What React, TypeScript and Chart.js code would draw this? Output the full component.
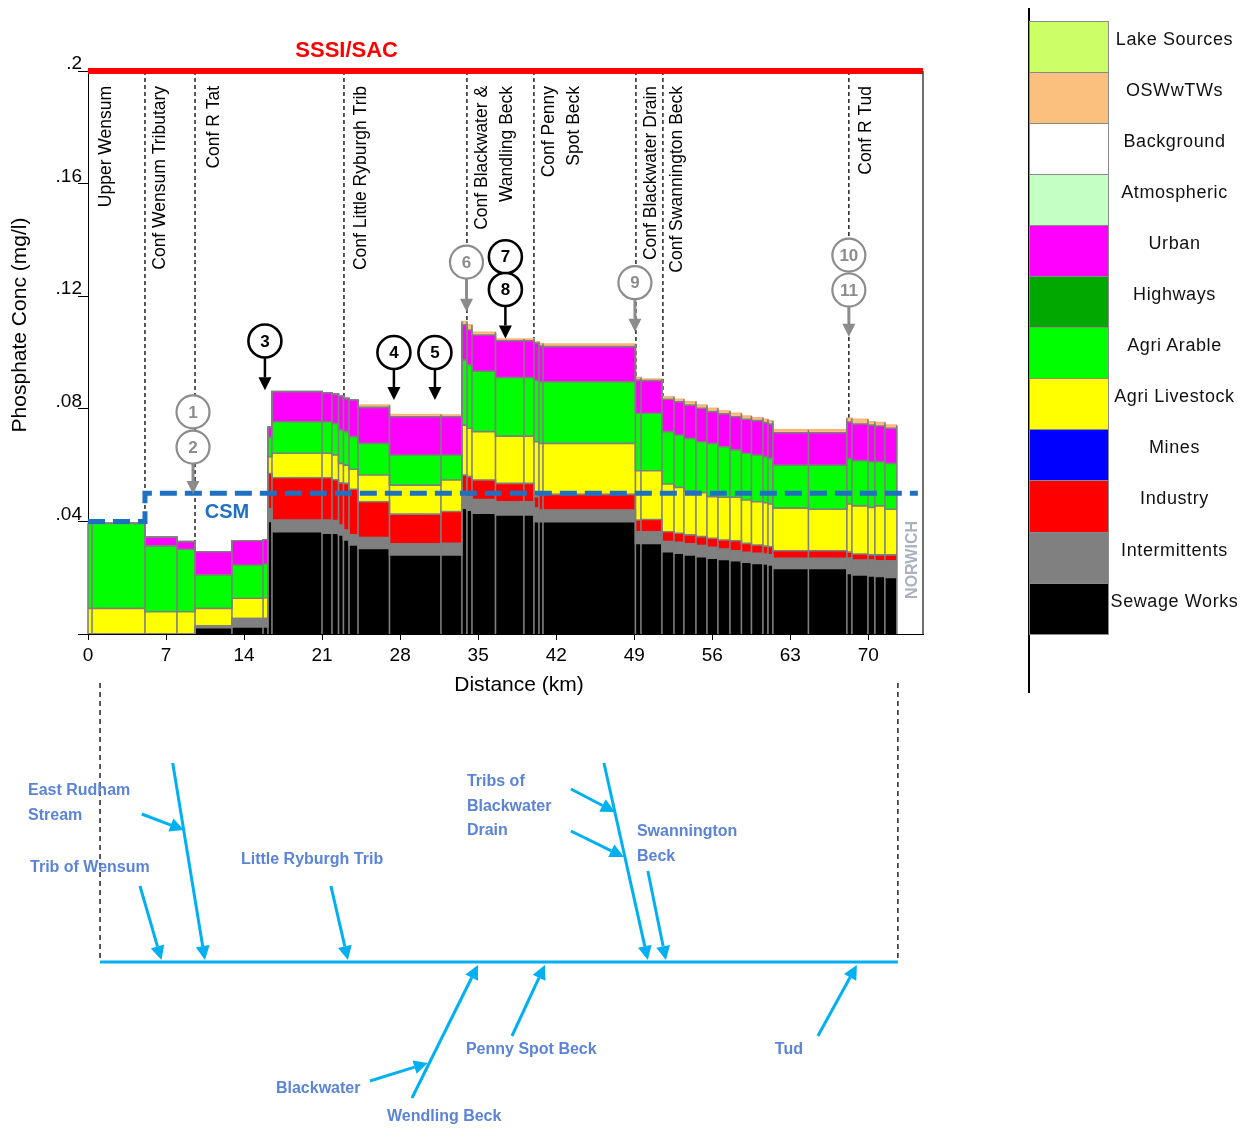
import React, { useEffect, useRef } from 'react';
import { Chart, registerables } from 'chart.js';

Chart.register(...registerables);

const FONT = '"Liberation Sans", Arial, Helvetica, sans-serif';

// ---------------- data (distance in km, concentrations in mg/l) ----------------
const segmentStartKm = [
  0, 0.36, 5.11, 7.98, 9.6, 12.91, 15.7, 16.14, 16.5, 20.99,
  21.88, 22.47, 22.91, 23.41, 24.22, 27.04, 31.66, 33.54, 33.99, 34.44,
  36.55, 39.1, 40.0, 40.45, 40.81, 49.1, 49.6, 51.48, 52.56, 53.45,
  54.53, 55.52, 56.5, 57.58, 58.61, 59.51, 60.54, 60.99, 61.43, 64.62,
  68.07, 68.52, 69.96, 70.58, 71.48,
];
const riverEndKm = 72.56;

const sewageWorks = [
  0, 0, 0, 0, 0.0022, 0.0025, 0.0025, 0.04, 0.0363, 0.0358,
  0.0358, 0.0352, 0.0334, 0.0316, 0.0304, 0.0281, 0.0281, 0.0447, 0.044, 0.0429,
  0.0423, 0.0423, 0.0399, 0.0399, 0.0399, 0.0322, 0.0322, 0.0292, 0.0287, 0.0281,
  0.0275, 0.0269, 0.0265, 0.026, 0.0255, 0.0251, 0.0249, 0.0245, 0.0233, 0.0233,
  0.0215, 0.021, 0.0206, 0.0204, 0.0201,
];
const intermittents = [
  0, 0, 0, 0, 0.0006, 0.003, 0.003, 0.0045, 0.0042, 0.0047,
  0.0045, 0.0035, 0.0035, 0.0036, 0.0039, 0.0039, 0.0041, 0.0047, 0.0048, 0.0049,
  0.0047, 0.0047, 0.0048, 0.0041, 0.0041, 0.0041, 0.0041, 0.0036, 0.0039, 0.0039,
  0.0039, 0.0039, 0.0037, 0.0036, 0.0035, 0.0036, 0.0035, 0.0036, 0.0036, 0.0036,
  0.0055, 0.0053, 0.0057, 0.0056, 0.0059,
];
const industry = [
  0, 0, 0, 0, 0, 0, 0, 0.0125, 0.015, 0.015,
  0.0145, 0.015, 0.0166, 0.0162, 0.0127, 0.0106, 0.0113, 0.0071, 0.0071, 0.0069,
  0.0065, 0.0065, 0.0041, 0.0056, 0.0056, 0.0042, 0.0044, 0.0035, 0.0032, 0.0032,
  0.0032, 0.0032, 0.0032, 0.0035, 0.0032, 0.0029, 0.0028, 0.0029, 0.0027, 0.0027,
  0.0021, 0.0021, 0.0018, 0.0021, 0.0021,
];
const agriLivestock = [
  0.0091, 0.0091, 0.0079, 0.0079, 0.0063, 0.0072, 0.0074, 0.006, 0.0087, 0.0087,
  0.0088, 0.0069, 0.0065, 0.0071, 0.0095, 0.0103, 0.0112, 0.0177, 0.0172, 0.0172,
  0.0168, 0.0168, 0.0195, 0.0181, 0.0181, 0.0175, 0.0173, 0.017, 0.0163, 0.0157,
  0.0156, 0.0148, 0.0152, 0.0155, 0.0154, 0.0154, 0.0154, 0.0152, 0.0151, 0.0147,
  0.0171, 0.0171, 0.0169, 0.0174, 0.0162,
];
const agriArable = [
  0.0302, 0.0302, 0.0234, 0.0222, 0.0119, 0.0118, 0.012, 0.007, 0.0112, 0.0112,
  0.0112, 0.0119, 0.0119, 0.0116, 0.0112, 0.0107, 0.0089, 0.0231, 0.0225, 0.0215,
  0.0208, 0.0208, 0.0219, 0.0219, 0.0219, 0.0204, 0.0204, 0.0186, 0.0186, 0.0186,
  0.0181, 0.0189, 0.0179, 0.0168, 0.0166, 0.0166, 0.0164, 0.0162, 0.0153, 0.0157,
  0.0161, 0.0161, 0.0162, 0.0157, 0.0163,
];
const urban = [
  0, 0, 0.0031, 0.0027, 0.0082, 0.0086, 0.0086, 0.0035, 0.0107, 0.0103,
  0.0104, 0.012, 0.0118, 0.013, 0.0128, 0.0136, 0.0136, 0.0125, 0.0124, 0.0128,
  0.0131, 0.0131, 0.0132, 0.0127, 0.0125, 0.0118, 0.0116, 0.0115, 0.0118, 0.0118,
  0.0119, 0.0113, 0.0117, 0.0118, 0.0121, 0.0122, 0.0121, 0.0122, 0.0115, 0.0115,
  0.013, 0.013, 0.013, 0.0127, 0.0125,
];
const oswwtws = [
  0, 0, 0, 0, 0, 0, 0, 0, 0, 0,
  0, 0, 0, 0, 0.0008, 0.0008, 0.0006, 0.0012, 0.0018, 0.001,
  0.0006, 0.0006, 0.0004, 0.0009, 0.0009, 0.0009, 0.0006, 0.0009, 0.0009, 0.0012,
  0.0011, 0.0012, 0.001, 0.0012, 0.0011, 0.001, 0.0012, 0.0011, 0.001, 0.001,
  0.0013, 0.0017, 0.0012, 0.0012, 0.0011,
];

// standards
const sssiLevel = 0.2;
const csmKm = [0, 5.11, 74.44];
const csmLevel = [0.04, 0.05, 0.05];

// axis ticks
const xMaxKm = 74.9;
const xStepKm = 7;
const yMax = 0.2;
const yStep = 0.04;

// annotations
const confluenceKm = [5.11, 9.6, 22.96, 33.99, 40.0, 49.15, 51.57, 68.25];
const reachLabelText = [
  'Upper Wensum', 'Conf Wensum Tributary', 'Conf R Tat', 'Conf Little Ryburgh Trib',
  'Conf Blackwater &', 'Wandling Beck', 'Conf Penny', 'Spot Beck',
  'Conf Blackwater Drain', 'Conf Swannington Beck', 'Conf R Tud',
];
const reachLabelKm = [1.61, 6.46, 11.3, 24.48, 35.34, 37.58, 41.35, 43.59, 50.49, 52.83, 69.78];
const reachLabelTop = 0.1947;

const markerText = ['1', '2', '3', '4', '5', '6', '7', '8', '9', '10', '11'];
const markerKm = [9.42, 9.42, 15.87, 27.44, 31.12, 33.95, 37.44, 37.44, 49.06, 68.25, 68.25];
const markerLevel = [0.0789, 0.0664, 0.1041, 0.1, 0.1, 0.1321, 0.134, 0.1224, 0.1248, 0.1346, 0.1222];
const markerArrowTip = [null, 0.0497, 0.0866, 0.0831, 0.0831, 0.1145, null, 0.105, 0.1074, null, 0.1056];
const markerDark = [false, false, true, true, true, false, true, true, false, false, false];

// river schematic (x in km along the axis, y in px from the main river line)
const riverSpanKm = [1.08, 72.65];
const tributaryArrows = [
  [4.66, -76, 6.59, -2],
  [7.6, -199, 10.49, -2],
  [4.82, -148, 8.61, -132],
  [21.79, -76, 23.32, -2],
  [46.28, -199, 50.22, -2],
  [43.32, -173, 47.26, -150],
  [43.32, -131, 48.07, -105],
  [50.22, -91, 51.84, -2],
  [29.06, 136, 34.98, 3],
  [25.29, 119, 30.49, 101],
  [38.03, 74, 40.99, 3],
  [65.47, 74, 68.97, 3],
];
const tributaryLabelText = [
  'East Rudham', 'Stream', 'Trib of Wensum', 'Little Ryburgh Trib', 'Tribs of', 'Blackwater',
  'Drain', 'Swannington', 'Beck', 'Blackwater', 'Wendling Beck', 'Penny Spot Beck', 'Tud',
];
const tributaryLabelKm = [-5.38, -5.38, -5.2, 13.72, 33.99, 33.99, 33.99, 49.24, 49.24, 16.86, 26.82, 33.9, 61.61];
const tributaryLabelDy = [-171, -146, -94, -102, -180, -155, -131, -130, -105, 127, 155, 88, 88];

// legend
const legendNames = [
  'Lake Sources', 'OSWwTWs', 'Background', 'Atmospheric', 'Urban', 'Highways',
  'Agri Arable', 'Agri Livestock', 'Mines', 'Industry', 'Intermittents', 'Sewage Works',
];
const legendColors = [
  '#ccff66', '#fcc07e', '#ffffff', '#c4ffc4', '#ff00ff', '#00a800',
  '#00ff00', '#ffff00', '#0000ff', '#ff0000', '#808080', '#000000',
];

// ---------------- styling ----------------
const EDGE = '#7f7f7f';
const TAN_EDGE = '#f4b57c';
const CSM_BLUE = '#1f70c0';
const RIVER_BLUE = '#00b0f0';
const RIVER_TEXT = '#5b84d6';

const layers = [
  { label: 'Sewage Works', values: sewageWorks, color: '#000000' },
  { label: 'Intermittents', values: intermittents, color: '#808080' },
  { label: 'Industry', values: industry, color: '#ff0000' },
  { label: 'Agri Livestock', values: agriLivestock, color: '#ffff00' },
  { label: 'Agri Arable', values: agriArable, color: '#00ff00' },
  { label: 'Urban', values: urban, color: '#ff00ff' },
  { label: 'OSWwTWs', values: oswwtws, color: '#fcc07e' },
];

const toSteps = (vals: number[]) =>
  segmentStartKm
    .map((x, i) => ({ x, y: vals[i] }))
    .concat([{ x: riverEndKm, y: vals[vals.length - 1] }]);

function drawArrow(ctx: CanvasRenderingContext2D, x1: number, y1: number, x2: number, y2: number,
  color: string, lw: number, headLen: number, headHalf: number) {
  const a = Math.atan2(y2 - y1, x2 - x1);
  const bx = x2 - headLen * Math.cos(a);
  const by = y2 - headLen * Math.sin(a);
  ctx.strokeStyle = color;
  ctx.lineWidth = lw;
  ctx.setLineDash([]);
  ctx.beginPath();
  ctx.moveTo(x1, y1);
  ctx.lineTo(bx, by);
  ctx.stroke();
  ctx.fillStyle = color;
  ctx.beginPath();
  ctx.moveTo(x2, y2);
  ctx.lineTo(bx + headHalf * Math.sin(a), by - headHalf * Math.cos(a));
  ctx.lineTo(bx - headHalf * Math.sin(a), by + headHalf * Math.cos(a));
  ctx.closePath();
  ctx.fill();
}

const overlayPlugin = {
  id: 'overlay',
  beforeDatasetsDraw(chart: any) {
    const { ctx } = chart;
    const xs = chart.scales.x;
    const ys = chart.scales.y;
    ctx.save();
    ctx.strokeStyle = '#000';
    ctx.lineWidth = 1.3;
    ctx.setLineDash([4, 3]);
    confluenceKm.forEach((k) => {
      const px = xs.getPixelForValue(k);
      ctx.beginPath();
      ctx.moveTo(px, ys.getPixelForValue(sssiLevel));
      ctx.lineTo(px, ys.getPixelForValue(0));
      ctx.stroke();
    });
    ctx.restore();
  },
  afterDatasetDraw(chart: any, args: any) {
    if (args.index !== 0) return;
    const { ctx } = chart;
    const xs = chart.scales.x;
    const ys = chart.scales.y;
    const totals = segmentStartKm.map((_, i) => layers.reduce((s, l) => s + l.values[i], 0));
    const bounds = [...segmentStartKm, riverEndKm];
    ctx.save();
    ctx.strokeStyle = EDGE;
    ctx.lineWidth = 1.6;
    bounds.forEach((b, j) => {
      const left = j > 0 ? totals[j - 1] : 0;
      const right = j < totals.length ? totals[j] : 0;
      const top = Math.max(left, right);
      const px = xs.getPixelForValue(b);
      ctx.beginPath();
      ctx.moveTo(px, ys.getPixelForValue(0));
      ctx.lineTo(px, ys.getPixelForValue(top));
      ctx.stroke();
    });
    ctx.restore();
  },
  afterDraw(chart: any) {
    const { ctx, chartArea } = chart;
    const xs = chart.scales.x;
    const ys = chart.scales.y;
    ctx.save();

    // right frame of the plot
    ctx.strokeStyle = '#404040';
    ctx.lineWidth = 1.5;
    ctx.beginPath();
    ctx.moveTo(chartArea.right, chartArea.top);
    ctx.lineTo(chartArea.right, chartArea.bottom);
    ctx.stroke();

    // reach labels (rotated)
    ctx.fillStyle = '#000';
    ctx.font = `17.5px ${FONT}`;
    reachLabelText.forEach((t, i) => {
      ctx.save();
      ctx.translate(xs.getPixelForValue(reachLabelKm[i]), ys.getPixelForValue(reachLabelTop));
      ctx.rotate(-Math.PI / 2);
      ctx.textAlign = 'right';
      ctx.textBaseline = 'middle';
      ctx.fillText(t, 0, 0);
      ctx.restore();
    });

    // numbered markers
    const R = 16.5;
    markerText.forEach((t, i) => {
      const cx = xs.getPixelForValue(markerKm[i]);
      const cy = ys.getPixelForValue(markerLevel[i]);
      const col = markerDark[i] ? '#000000' : '#8c8c8c';
      const tip = markerArrowTip[i];
      if (tip !== null) {
        drawArrow(ctx, cx, cy + R, cx, ys.getPixelForValue(tip), col, markerDark[i] ? 2.5 : 3, 13, 6.5);
      }
    });
    markerText.forEach((t, i) => {
      const cx = xs.getPixelForValue(markerKm[i]);
      const cy = ys.getPixelForValue(markerLevel[i]);
      const col = markerDark[i] ? '#000000' : '#8c8c8c';
      ctx.setLineDash([]);
      ctx.beginPath();
      ctx.arc(cx, cy, R, 0, Math.PI * 2);
      ctx.fillStyle = '#ffffff';
      ctx.fill();
      ctx.strokeStyle = col;
      ctx.lineWidth = markerDark[i] ? 2.6 : 2.2;
      ctx.stroke();
      ctx.fillStyle = col;
      ctx.font = `bold 17px ${FONT}`;
      ctx.textAlign = 'center';
      ctx.textBaseline = 'middle';
      ctx.fillText(t, cx, cy + 1);
    });

    // SSSI/SAC and CSM captions
    ctx.fillStyle = '#ff0000';
    ctx.font = `bold 22px ${FONT}`;
    ctx.textAlign = 'center';
    ctx.textBaseline = 'middle';
    ctx.fillText('SSSI/SAC', xs.getPixelForValue(23.2), chartArea.top - 20);
    ctx.fillStyle = CSM_BLUE;
    ctx.font = `bold 20px ${FONT}`;
    ctx.fillText('CSM', xs.getPixelForValue(12.47), ys.getPixelForValue(0.0433));

    // NORWICH
    ctx.save();
    ctx.translate(xs.getPixelForValue(73.95), ys.getPixelForValue(0.0263));
    ctx.rotate(-Math.PI / 2);
    ctx.fillStyle = '#a9b1be';
    ctx.font = `bold 16px ${FONT}`;
    ctx.textAlign = 'center';
    ctx.textBaseline = 'middle';
    ctx.fillText('NORWICH', 0, 0);
    ctx.restore();

    // axis titles
    ctx.fillStyle = '#000';
    ctx.font = `21px ${FONT}`;
    ctx.textAlign = 'center';
    ctx.textBaseline = 'middle';
    ctx.fillText('Distance (km)', chartArea.left + 431, chartArea.bottom + 51);
    ctx.save();
    ctx.translate(12, chartArea.top + 254);
    ctx.rotate(-Math.PI / 2);
    ctx.fillText('Phosphate Conc (mg/l)', 0, 0);
    ctx.restore();

    // river schematic
    const riverY = chartArea.bottom + 328;
    ctx.strokeStyle = '#000';
    ctx.lineWidth = 1.3;
    ctx.setLineDash([5, 4]);
    riverSpanKm.forEach((k) => {
      const px = xs.getPixelForValue(k);
      ctx.beginPath();
      ctx.moveTo(px, riverY - 279);
      ctx.lineTo(px, riverY);
      ctx.stroke();
    });
    ctx.setLineDash([]);
    ctx.strokeStyle = RIVER_BLUE;
    ctx.lineWidth = 3;
    ctx.beginPath();
    ctx.moveTo(xs.getPixelForValue(riverSpanKm[0]), riverY);
    ctx.lineTo(xs.getPixelForValue(riverSpanKm[1]), riverY);
    ctx.stroke();
    tributaryArrows.forEach(([k1, d1, k2, d2]) => {
      drawArrow(ctx, xs.getPixelForValue(k1), riverY + d1, xs.getPixelForValue(k2), riverY + d2,
        RIVER_BLUE, 3, 14, 7);
    });
    ctx.fillStyle = RIVER_TEXT;
    ctx.font = `bold 16px ${FONT}`;
    ctx.textAlign = 'left';
    ctx.textBaseline = 'middle';
    tributaryLabelText.forEach((t, i) => {
      ctx.fillText(t, xs.getPixelForValue(tributaryLabelKm[i]), riverY + tributaryLabelDy[i]);
    });

    ctx.restore();
  },
};

export default function App() {
  const ref = useRef<HTMLCanvasElement>(null);

  useEffect(() => {
    if (!ref.current) return;
    const datasets: any[] = layers.map((l, i) => ({
      type: 'line',
      label: l.label,
      data: toSteps(l.values),
      stepped: true,
      fill: i === 0 ? 'origin' : '-1',
      backgroundColor: l.color,
      borderColor: EDGE,
      borderWidth: 1.6,
      borderJoinStyle: 'miter',
      pointRadius: 0,
      stack: 'load',
      order: 0,
      ...(l.label === 'OSWwTWs'
        ? { segment: { borderColor: (c: any) => (oswwtws[c.p0DataIndex] > 0 ? TAN_EDGE : EDGE) } }
        : {}),
    }));
    datasets.push({
      type: 'line',
      label: 'CSM',
      data: csmKm.map((x, i) => ({ x, y: csmLevel[i] })),
      stepped: true,
      fill: false,
      borderColor: CSM_BLUE,
      borderWidth: 5,
      borderDash: [17, 8],
      pointRadius: 0,
      stack: 'csm',
      order: -1,
      clip: false,
    });
    datasets.push({
      type: 'line',
      label: 'SSSI/SAC',
      data: [{ x: 0, y: sssiLevel }, { x: xMaxKm, y: sssiLevel }],
      fill: false,
      borderColor: '#ff0000',
      borderWidth: 6,
      pointRadius: 0,
      stack: 'sssi',
      order: -2,
      clip: false,
    });

    const chart = new Chart(ref.current, {
      type: 'line',
      data: { datasets },
      options: {
        responsive: false,
        maintainAspectRatio: false,
        animation: false,
        events: [],
        layout: { padding: { top: 63, left: 0, right: 316, bottom: 453 } },
        plugins: { legend: { display: false }, tooltip: { enabled: false } },
        scales: {
          x: {
            type: 'linear',
            min: 0,
            max: xMaxKm,
            ticks: {
              stepSize: xStepKm,
              includeBounds: false,
              autoSkip: false,
              maxRotation: 0,
              color: '#000',
              padding: 4.5,
              font: { size: 19, family: FONT },
            },
            grid: { drawOnChartArea: false, tickLength: 6, color: '#000' },
            border: { color: '#000', width: 1 },
            afterFit: (s: any) => { s.height = 40; },
          },
          y: {
            type: 'linear',
            stacked: true,
            min: 0,
            max: yMax,
            ticks: {
              stepSize: yStep,
              includeBounds: false,
              color: '#000',
              padding: -4,
              labelOffset: -7,
              font: { size: 19, family: FONT },
              callback: (v: any) => {
                const n = Number(v);
                if (n === 0) return '';
                return n.toFixed(2).replace(/^0/, '').replace(/0$/, '');
              },
            },
            grid: { drawOnChartArea: false, tickLength: 10, color: '#000' },
            border: { color: '#000', width: 1 },
            afterFit: (s: any) => { s.width = 80; },
          },
        },
      } as any,
      plugins: [overlayPlugin],
    } as any);
    return () => chart.destroy();
  }, []);

  return (
    <div style={{ position: 'relative', width: 1231, height: 1119 }}>
      <canvas
        ref={ref}
        width={1231}
        height={1119}
        style={{ position: 'absolute', left: 0, top: 0, width: 1231, height: 1119 }}
      />
      <div style={{ position: 'absolute', left: 1019.5, top: 0, width: 2, height: 685, background: '#000' }} />
      {legendNames.map((n, i) => (
        <React.Fragment key={n}>
          <div
            style={{
              position: 'absolute',
              left: 1021,
              top: 12.5 + i * 51.1,
              width: 80,
              height: 52.6,
              boxSizing: 'border-box',
              border: '1.5px solid #8a8a8a',
              background: legendColors[i],
            }}
          />
          <div
            style={{
              position: 'absolute',
              left: 1102,
              top: 12.5 + i * 51.1 - 7,
              width: 129,
              height: 51.1,
              display: 'flex',
              alignItems: 'center',
              justifyContent: 'center',
              font: `18px ${FONT}`,
              letterSpacing: '0.6px',
              color: '#111',
              whiteSpace: 'nowrap',
            }}
          >
            {n}
          </div>
        </React.Fragment>
      ))}
    </div>
  );
}
